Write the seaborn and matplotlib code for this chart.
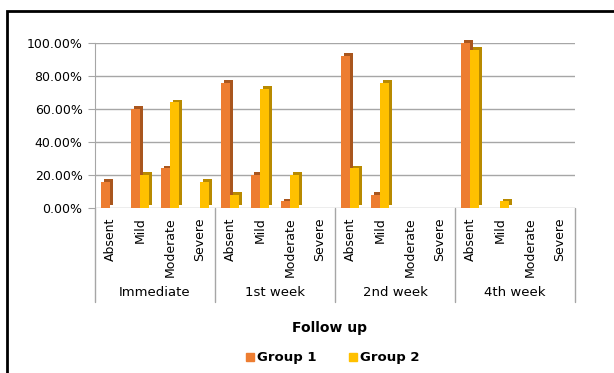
import pandas as pd
import matplotlib.pyplot as plt
import matplotlib.patheffects as pe
from matplotlib.patches import Rectangle
from matplotlib.lines import Line2D
from matplotlib.ticker import FuncFormatter
import seaborn as sns

periods = ["Immediate", "1st week", "2nd week", "4th week"]
severity = ["Absent", "Mild", "Moderate", "Severe"]
groups = ["Group 1", "Group 2"]
group1 = [16, 60, 24, 0, 76, 20, 4, 0, 92, 8, 0, 0, 100, 0, 0, 0]
group2 = [0, 20, 64, 16, 8, 72, 20, 0, 24, 76, 0, 0, 96, 4, 0, 0]
colors = {"Group 1": "#ED7D31", "Group 2": "#FFC000"}
shades = {"Group 1": "#A9561E", "Group 2": "#B88A00"}

keys = [p + "|" + s for p in periods for s in severity]
rows = []
for g, vals in zip(groups, [group1, group2]):
    for k, v in zip(keys, vals):
        rows.append({"cat": k, "group": g, "value": v / 100})
df = pd.DataFrame(rows)

sns.set_style("white")
plt.rcParams["font.family"] = ["DejaVu Sans"]
plt.rcParams["text.color"] = "black"
plt.rcParams["xtick.color"] = "black"
plt.rcParams["ytick.color"] = "black"

fig = plt.figure(figsize=(6.14, 3.73), dpi=100)
ax = fig.add_axes([95 / 614, 1 - 208 / 373, 480 / 614, 165 / 373])

sns.barplot(data=df, x="cat", y="value", hue="group", order=keys,
            hue_order=groups, palette=colors, width=0.6, ax=ax,
            legend=False, saturation=1, zorder=3, linewidth=0)

# fake the 3D look with a darker offset copy behind each bar
for container, g in zip(ax.containers, groups):
    for bar in container:
        bar.set_clip_on(False)
        bar.set_path_effects([
            pe.SimplePatchShadow(offset=(2, 2), shadow_rgbFace=shades[g], alpha=1),
            pe.Normal()])

ax.set_ylim(0, 1.0)
ax.set_xlim(-0.5, 15.5)
ax.set_yticks([0, 0.2, 0.4, 0.6, 0.8, 1.0])
ax.yaxis.set_major_formatter(FuncFormatter(lambda v, p: f"{v * 100:.2f}%"))
ax.grid(axis="y", color="#A6A6A6", lw=1, zorder=0)
for s in ["top", "right", "bottom"]:
    ax.spines[s].set_visible(False)
ax.spines["left"].set_color("#A6A6A6")
ax.tick_params(axis="y", length=5, color="#A6A6A6", labelcolor="black",
               labelsize=9, pad=4, left=True)
ax.set_xticks(range(16))
ax.set_xticklabels(severity * 4, rotation=90, fontsize=9)
ax.tick_params(axis="x", length=0, pad=7, labelcolor="black")
ax.set_xlabel("")
ax.set_ylabel("")

# period labels and separators below the axis
for i in range(5):
    ax.plot([i * 4 - 0.5] * 2, [0, -0.57], color="#A6A6A6", lw=1,
            transform=ax.get_xaxis_transform(), clip_on=False)
for i, p in enumerate(periods):
    ax.text(i * 4 + 1.5, -0.515, p, ha="center", va="center", fontsize=9.5,
            color="black", transform=ax.get_xaxis_transform())

fig.text(330 / 614, 1 - 328 / 373, "Follow up", ha="center", va="center",
         fontsize=10, fontweight="bold", color="black")

handles = [Line2D([], [], marker="s", ls="", markersize=6, color=colors[g]) for g in groups]
fig.legend(handles, groups, loc="center", bbox_to_anchor=(332 / 614, 1 - 358 / 373),
           ncol=2, frameon=False, prop={"weight": "bold", "size": 9.5},
           handletextpad=0.1, columnspacing=2.4, handlelength=0.8,
           labelcolor="black")

fig.patches.append(Rectangle((7 / 614, -0.1), 1.2, (1 - 11 / 373) + 0.1,
                             transform=fig.transFigure, fill=False,
                             edgecolor="black", lw=2))

plt.savefig("out.png", dpi=100)
